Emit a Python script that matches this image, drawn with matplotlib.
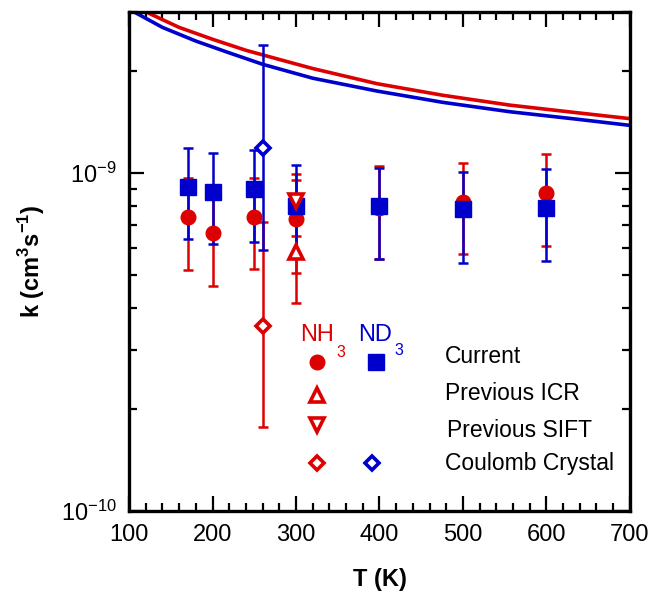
import matplotlib.pyplot as plt
from matplotlib.ticker import LogLocator, NullFormatter, MultipleLocator

plt.rcParams['font.family'] = ['Liberation Sans', 'DejaVu Sans']
plt.rcParams['mathtext.fontset'] = 'custom'
plt.rcParams['mathtext.rm'] = 'Liberation Sans'
plt.rcParams['mathtext.bf'] = 'Liberation Sans:bold'

RED = '#dd0000'
BLUE = '#0000cc'

# Capture theory curves
T_red = [105, 124, 160, 200, 240, 280, 320, 397, 476, 556, 636, 700]
k_red = [3.35e-9, 2.97e-9, 2.70e-9, 2.49e-9, 2.31e-9, 2.17e-9, 2.04e-9, 1.84e-9, 1.70e-9, 1.59e-9, 1.51e-9, 1.45e-9]
T_blue = [100, 106, 140, 180, 220, 260, 320, 397, 476, 556, 636, 700]
k_blue = [3.13e-9, 3.0e-9, 2.70e-9, 2.46e-9, 2.27e-9, 2.10e-9, 1.91e-9, 1.75e-9, 1.62e-9, 1.52e-9, 1.445e-9, 1.385e-9]

# Current measurements
T_cur = [170, 200, 250, 300, 400, 500, 600]
nh3_cur = [7.4e-10, 6.63e-10, 7.44e-10, 7.3e-10, 7.9e-10, 8.2e-10, 8.72e-10]
nh3_lo = [5.18e-10, 4.64e-10, 5.21e-10, 5.07e-10, 5.58e-10, 5.78e-10, 6.1e-10]
nh3_hi = [9.7e-10, 8.6e-10, 9.7e-10, 9.53e-10, 10.5e-10, 10.7e-10, 11.4e-10]
nd3_cur = [9.08e-10, 8.77e-10, 8.96e-10, 7.97e-10, 7.97e-10, 7.81e-10, 7.87e-10]
nd3_lo = [6.37e-10, 6.15e-10, 6.24e-10, 5.66e-10, 5.58e-10, 5.43e-10, 5.5e-10]
nd3_hi = [11.86e-10, 11.47e-10, 11.7e-10, 10.56e-10, 10.35e-10, 10.07e-10, 10.27e-10]

# Previous work
T_icr = [300]
k_icr = [5.86e-10]
icr_lo = [4.13e-10]
icr_hi = [7.6e-10]
T_sift = [300]
k_sift = [8.26e-10]
sift_lo = [6.53e-10]
sift_hi = [9.93e-10]
T_cc = [260]
nh3_cc = [3.53e-10]
nh3_cc_lo = [1.77e-10]
nh3_cc_hi = [7.15e-10]
nd3_cc = [11.86e-10]
nd3_cc_lo = [5.94e-10]
nd3_cc_hi = [24.0e-10]


def yerr(k, lo, hi):
    return [[a - b for a, b in zip(k, lo)], [b - a for a, b in zip(k, hi)]]


fig = plt.figure(figsize=(6.52, 5.97), dpi=100)
ax = fig.add_axes([0.198, 0.144, 0.768, 0.836])

ax.plot(T_red, k_red, color=RED, lw=2.6, zorder=2)
ax.plot(T_blue, k_blue, color=BLUE, lw=2.6, zorder=2)

eb = dict(fmt='none', elinewidth=1.8, capsize=3.6, capthick=1.8)
ax.errorbar(T_cur, nh3_cur, yerr=yerr(nh3_cur, nh3_lo, nh3_hi), ecolor=RED, zorder=3, **eb)
ax.errorbar(T_icr, k_icr, yerr=yerr(k_icr, icr_lo, icr_hi), ecolor=RED, zorder=3, **eb)
ax.errorbar(T_sift, k_sift, yerr=yerr(k_sift, sift_lo, sift_hi), ecolor=RED, zorder=3, **eb)
ax.errorbar(T_cc, nh3_cc, yerr=yerr(nh3_cc, nh3_cc_lo, nh3_cc_hi), ecolor=RED, zorder=3, **eb)
ax.errorbar(T_cur, nd3_cur, yerr=yerr(nd3_cur, nd3_lo, nd3_hi), ecolor=BLUE, zorder=4, **eb)
ax.errorbar(T_cc, nd3_cc, yerr=yerr(nd3_cc, nd3_cc_lo, nd3_cc_hi), ecolor=BLUE, zorder=4, **eb)

ax.plot(T_cur, nh3_cur, 'o', color=RED, ms=10.5, ls='none', zorder=5)
ax.plot(T_cur, nd3_cur, 's', color=BLUE, ms=12, ls='none', zorder=6)
ax.plot(T_icr, k_icr, '^', mfc='white', mec=RED, mew=2.6, ms=9.5, ls='none', zorder=5)
ax.plot(T_sift, k_sift, 'v', mfc='white', mec=RED, mew=2.6, ms=9.5, ls='none', zorder=7)
ax.plot(T_cc, nh3_cc, 'D', mfc='white', mec=RED, mew=2.6, ms=7.5, ls='none', zorder=5)
ax.plot(T_cc, nd3_cc, 'D', mfc='white', mec=BLUE, mew=2.6, ms=7.5, ls='none', zorder=6)

# Hand-made legend
tr = ax.transAxes
ax.text(0.375, 0.353, 'NH', color=RED, fontsize=17, ha='center', va='center', transform=tr)
ax.text(0.423, 0.318, '3', color=RED, fontsize=11.5, ha='center', va='center', transform=tr)
ax.text(0.491, 0.353, 'ND', color=BLUE, fontsize=17, ha='center', va='center', transform=tr)
ax.text(0.539, 0.322, '3', color=BLUE, fontsize=11.5, ha='center', va='center', transform=tr)
ax.plot([0.375], [0.299], 'o', color=RED, ms=10.5, transform=tr)
ax.plot([0.493], [0.299], 's', color=BLUE, ms=12, transform=tr)
ax.plot([0.375], [0.232], '^', mfc='white', mec=RED, mew=2.6, ms=9.5, transform=tr)
ax.plot([0.375], [0.172], 'v', mfc='white', mec=RED, mew=2.6, ms=9.5, transform=tr)
ax.plot([0.375], [0.096], 'D', mfc='white', mec=RED, mew=2.6, ms=7.5, transform=tr)
ax.plot([0.485], [0.096], 'D', mfc='white', mec=BLUE, mew=2.6, ms=7.5, transform=tr)
labels = ['Current', 'Previous ICR', 'Previous SIFT', 'Coulomb Crystal']
label_y = [0.309, 0.236, 0.162, 0.096]
label_x = [0.631, 0.631, 0.635, 0.631]
for lab, lx, ly in zip(labels, label_x, label_y):
    ax.text(lx, ly, lab, fontsize=16.5, ha='left', va='center', transform=tr)

# Axes
ax.set_xlim(100, 700)
ax.set_yscale('log')
ax.set_ylim(1e-10, 3e-9)
ax.xaxis.set_major_locator(MultipleLocator(100))
ax.xaxis.set_minor_locator(MultipleLocator(20))
ax.yaxis.set_major_locator(LogLocator(base=10))
ax.yaxis.set_minor_locator(LogLocator(base=10, subs=range(2, 10)))
ax.yaxis.set_minor_formatter(NullFormatter())
ax.tick_params(which='both', direction='in', top=True, right=True, labelsize=17, width=1.6)
ax.tick_params(which='major', length=10.5, pad=9)
ax.tick_params(which='minor', length=5.5)
for s in ax.spines.values():
    s.set_linewidth(2.4)

ax.set_xlabel('T (K)', fontsize=17, fontweight='bold', labelpad=16)
ax.set_ylabel(r'k (cm$^\mathbf{3}$s$^\mathbf{-1}$)', fontsize=17, fontweight='bold', labelpad=10)

fig.savefig('out.png', dpi=100)
